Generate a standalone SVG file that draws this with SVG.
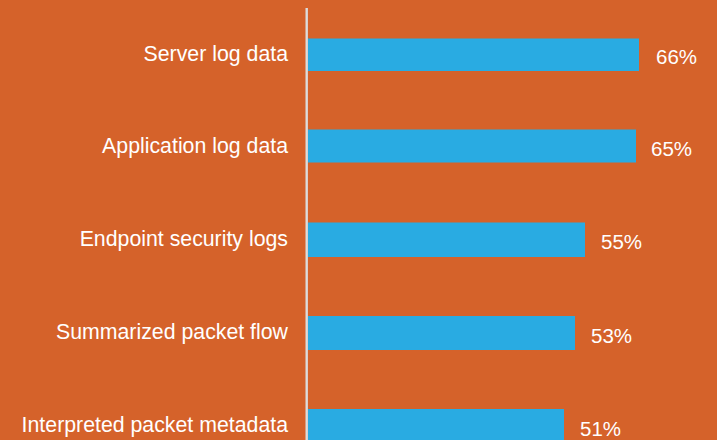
<svg xmlns="http://www.w3.org/2000/svg" width="717" height="440" viewBox="0 0 717 440">
  <style>
    .bar { fill: #29abe2; }
    .cat { font-family: "Liberation Sans", Arial, sans-serif; font-size: 21.3px; fill: #ffffff; text-anchor: end; }
    .val { font-family: "Liberation Sans", Arial, sans-serif; font-size: 20.5px; fill: #ffffff; }
  </style>
  <rect x="0" y="0" width="717" height="440" fill="#d5622a"/>

  <g id="axis">
    <line x1="306.7" y1="8" x2="306.7" y2="440" stroke="#dcdcdc" stroke-width="2.4"/>
  </g>

  <g id="row-server-log">
    <text class="cat" x="288" y="60.5">Server log data</text>
    <rect class="bar" x="308" y="38.5" width="331" height="32.5"/>
    <text class="val" x="656" y="63.5">66%</text>
  </g>

  <g id="row-application-log">
    <text class="cat" x="288" y="152.5">Application log data</text>
    <rect class="bar" x="308" y="129.5" width="328" height="33"/>
    <text class="val" x="651" y="156">65%</text>
  </g>

  <g id="row-endpoint-security">
    <text class="cat" x="288" y="246">Endpoint security logs</text>
    <rect class="bar" x="308" y="222.5" width="277" height="34.5"/>
    <text class="val" x="601" y="249">55%</text>
  </g>

  <g id="row-summarized-flow">
    <text class="cat" x="288" y="339">Summarized packet flow</text>
    <rect class="bar" x="308" y="316" width="267" height="34"/>
    <text class="val" x="591" y="343">53%</text>
  </g>

  <g id="row-packet-metadata">
    <text class="cat" x="288" y="432">Interpreted packet metadata</text>
    <rect class="bar" x="308" y="409" width="256" height="34"/>
    <text class="val" x="580" y="436">51%</text>
  </g>
</svg>
